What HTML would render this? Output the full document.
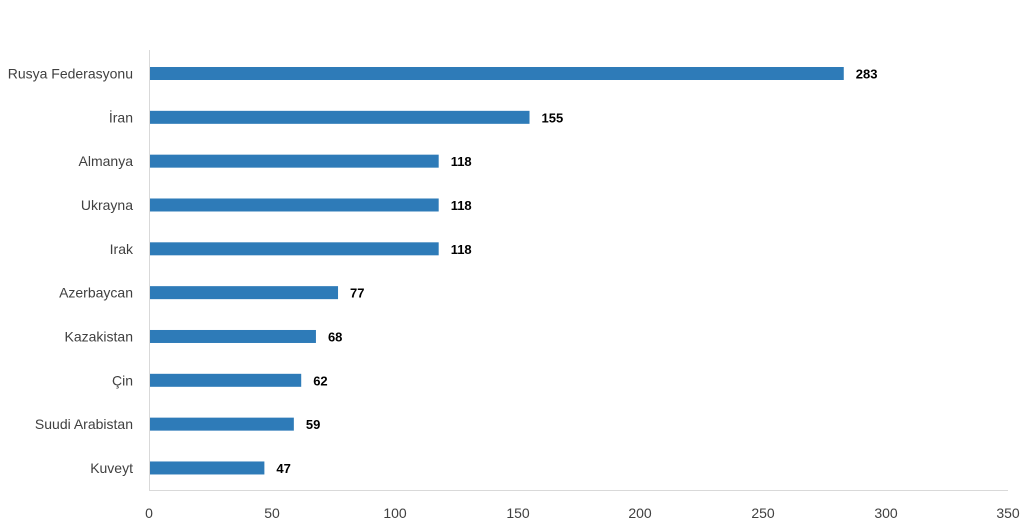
<!DOCTYPE html>
<html><head><meta charset="utf-8"><style>
body{margin:0;background:#fff;}
svg text{font-family:"Liberation Sans",sans-serif;}
</style></head><body>
<svg width="1024" height="526" xmlns="http://www.w3.org/2000/svg">
<line x1="149.5" y1="50" x2="149.5" y2="491" stroke="#d9d9d9"/>
<line x1="149" y1="490.5" x2="1008" y2="490.5" stroke="#d9d9d9"/>
<g font-size="14" fill="#404040" text-anchor="middle">
<text x="149" y="518">0</text><text x="272" y="518">50</text><text x="395" y="518">100</text><text x="518" y="518">150</text><text x="640" y="518">200</text><text x="763" y="518">250</text><text x="886" y="518">300</text><text x="1008" y="518">350</text>
</g>
<g id="bars"></g>
</svg>
<script>
var d=[["Rusya Federasyonu",283],["İran",155],["Almanya",118],["Ukrayna",118],["Irak",118],["Azerbaycan",77],["Kazakistan",68],["Çin",62],["Suudi Arabistan",59],["Kuveyt",47]];
var g=document.getElementById("bars"),s="";
d.forEach(function(r,i){var c=73.5+i*43.83,w=r[1]*2.455;
s+='<rect x="150" y="'+(c-6.5)+'" width="'+(w-1)+'" height="13" fill="#2e7bb8"/>';
s+='<text x="133" y="'+(c+5)+'" font-size="14" fill="#404040" text-anchor="end">'+r[0]+'</text>';
s+='<text x="'+(149+w+12)+'" y="'+(c+5)+'" font-size="13" font-weight="bold" fill="#000">'+r[1]+'</text>';});
g.innerHTML=s;
</script>
</body></html>
